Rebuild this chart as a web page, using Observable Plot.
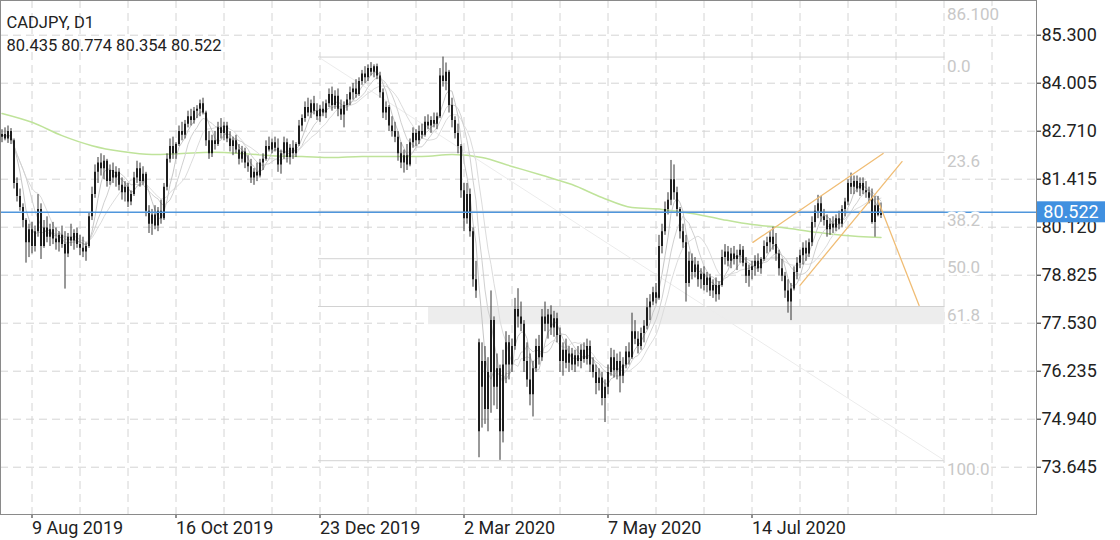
<!DOCTYPE html>
<html><head><meta charset="utf-8">
<script src="https://cdn.jsdelivr.net/npm/d3@7"></script>
<script src="https://cdn.jsdelivr.net/npm/@observablehq/plot@0.6"></script>
<style>
html,body{margin:0;padding:0;background:#fff;}
#chart{width:1120px;height:540px;overflow:hidden;}
</style></head><body>
<div id="chart"></div>
<script>
// ---- data (daily bars, index 0 = first visible bar) ----
const opens = [
82.55,82.62,82.50,82.70,82.45,81.30,80.95,80.65,80.30,79.70,
80.05,79.60,80.00,80.60,79.60,80.10,79.85,80.05,79.80,79.70,
79.90,79.65,79.40,79.85,79.75,79.95,79.65,79.55,79.45,79.60,
80.40,81.00,81.60,81.85,81.70,81.90,81.35,81.65,81.45,81.60,
81.25,81.05,81.20,80.80,81.00,81.45,81.70,81.35,81.55,80.55,
80.20,80.45,80.15,80.55,80.35,81.20,81.95,82.30,82.10,82.35,
82.70,82.60,82.90,83.10,83.00,83.25,83.30,83.45,83.20,82.45,
82.10,82.45,82.35,82.80,82.65,82.85,82.50,82.30,82.45,82.20,
81.95,82.15,81.85,81.75,81.45,81.60,81.50,81.85,81.95,82.30,
82.20,82.40,82.25,81.80,82.10,82.40,82.00,82.25,82.10,82.35,
82.85,83.05,83.35,83.20,83.45,83.25,83.10,83.30,83.20,83.45,
83.70,83.40,83.65,83.30,83.15,83.40,83.55,83.75,83.85,83.70,
84.05,84.25,84.15,84.40,84.30,84.45,84.20,83.75,83.20,83.35,
82.85,82.70,82.55,82.10,81.85,82.05,81.80,82.40,82.65,82.45,
82.70,82.60,82.95,82.85,83.00,82.90,83.10,84.20,84.05,84.30,
83.40,83.00,82.65,82.30,81.10,80.35,81.00,80.00,78.70,77.00,
75.80,76.50,75.20,76.20,77.60,75.80,76.30,74.60,76.40,77.00,
76.40,76.90,77.90,77.70,77.50,76.50,76.00,75.60,76.30,76.90,
76.60,77.70,77.50,77.75,77.40,77.65,77.20,76.50,76.80,76.45,
76.70,76.40,76.65,76.50,76.80,76.55,76.90,76.40,76.20,75.90,
76.05,75.50,75.80,76.20,76.60,76.25,76.50,76.10,76.40,76.75,
76.60,77.30,77.10,76.90,77.25,77.45,77.95,78.10,78.35,78.20,
79.60,80.00,80.60,80.85,81.40,81.05,80.60,80.00,79.70,78.60,
79.20,78.90,79.10,78.70,78.85,78.55,78.75,78.40,78.55,78.30,
78.55,79.30,79.45,79.20,79.40,79.25,79.35,79.50,79.15,78.80,
78.95,79.05,79.20,79.00,79.25,79.60,79.70,79.85,79.65,79.40,
79.00,78.80,78.40,78.10,78.45,78.90,79.15,79.35,79.55,79.40,
79.70,80.25,80.55,80.75,80.40,80.30,80.05,80.20,80.10,80.35,
80.20,80.60,80.80,81.30,81.20,81.35,81.15,81.30,81.10,81.05,
80.90,80.25,80.70,80.435];
const highs = [
82.75,82.80,82.85,82.78,82.50,81.45,81.15,80.75,80.35,80.20,
80.25,80.15,81.00,80.75,80.30,80.40,80.20,80.25,80.10,80.00,
80.15,80.00,79.95,80.20,80.05,80.10,79.90,79.85,79.70,80.50,
81.20,81.80,82.00,82.10,82.05,81.95,81.80,81.85,81.75,81.70,
81.45,81.35,81.30,81.10,81.60,81.90,81.85,81.75,81.60,80.70,
80.60,80.70,80.65,80.85,81.30,82.10,82.50,82.55,82.40,82.85,
82.95,83.00,83.25,83.30,83.35,83.40,83.55,83.60,83.25,82.70,
82.60,82.70,82.95,83.05,82.95,82.95,82.70,82.55,82.60,82.35,
82.30,82.25,82.05,81.95,81.70,81.85,81.95,82.10,82.45,82.55,
82.50,82.55,82.50,82.20,82.55,82.50,82.35,82.45,82.40,83.00,
83.15,83.50,83.60,83.55,83.65,83.45,83.40,83.50,83.55,83.85,
83.90,83.80,83.85,83.55,83.50,83.70,83.90,84.00,84.10,84.15,
84.35,84.45,84.50,84.56,84.50,84.52,84.30,83.85,83.50,83.40,
83.10,82.95,82.70,82.40,82.20,82.35,82.50,82.80,82.75,82.85,
82.90,83.10,83.15,83.10,83.20,83.20,84.40,84.71,84.55,84.35,
83.60,83.10,82.90,82.35,81.30,81.30,81.15,80.10,79.20,77.10,
77.00,76.90,76.60,78.40,77.70,76.70,76.40,76.80,77.30,77.20,
77.10,78.20,78.46,78.10,77.60,77.00,76.70,76.50,77.10,77.20,
77.90,78.10,77.90,78.00,77.85,77.80,77.40,77.00,77.10,76.90,
76.85,76.80,76.90,76.95,77.00,77.10,77.05,76.60,76.40,76.30,
76.20,76.00,76.40,76.85,76.80,76.70,76.75,76.60,76.90,77.00,
77.80,77.60,77.30,77.40,77.60,78.20,78.30,78.50,78.60,79.90,
80.20,80.80,81.05,81.92,81.80,81.20,80.65,80.20,79.90,79.45,
79.40,79.30,79.20,79.00,79.05,78.90,78.85,78.70,78.75,78.65,
79.50,79.65,79.60,79.55,79.60,79.50,79.65,79.60,79.30,79.10,
79.20,79.35,79.40,79.30,79.75,79.85,80.00,80.12,79.95,79.50,
79.25,78.90,78.70,78.60,79.05,79.30,79.50,79.70,79.75,79.80,
80.40,80.70,80.98,80.95,80.60,80.45,80.35,80.40,80.45,80.55,
80.70,80.90,81.40,81.58,81.50,81.50,81.45,81.45,81.35,81.20,
81.15,80.95,80.95,80.774];
const lows = [
82.40,82.45,82.38,82.35,81.15,80.80,80.55,80.10,79.15,79.30,
79.40,79.45,79.85,79.25,79.55,79.70,79.60,79.65,79.50,79.45,
79.55,78.45,79.30,79.60,79.50,79.55,79.35,79.30,79.20,79.55,
80.30,80.90,81.30,81.50,81.40,81.20,81.25,81.30,81.20,81.10,
80.85,80.80,80.65,80.70,80.95,81.30,81.20,81.25,80.40,79.95,
79.90,80.05,80.00,80.20,80.30,81.10,81.85,81.95,81.95,82.30,
82.45,82.50,82.80,82.85,82.90,83.05,83.10,83.15,82.30,81.95,
82.00,82.20,82.30,82.50,82.45,82.40,82.15,82.05,82.10,81.80,
81.85,81.70,81.60,81.30,81.25,81.35,81.45,81.65,81.90,82.15,
82.10,82.15,81.60,81.55,81.95,81.85,81.80,81.95,82.00,82.30,
82.70,82.95,83.10,83.05,83.15,83.00,82.95,83.10,83.05,83.35,
83.25,83.30,83.10,83.00,82.80,83.25,83.40,83.55,83.60,83.65,
83.95,84.00,84.05,84.20,84.15,84.10,83.60,83.05,83.00,82.70,
82.55,82.40,81.90,81.70,81.58,81.65,81.75,82.25,82.30,82.35,
82.50,82.55,82.75,82.65,82.80,82.75,83.05,83.90,83.80,83.20,
82.80,82.50,82.10,80.90,80.00,80.20,79.85,78.50,78.20,73.90,
74.70,74.80,74.60,75.10,75.30,75.20,73.83,74.30,75.90,76.00,
76.20,76.80,77.40,77.30,76.20,75.80,75.30,75.00,76.20,76.40,
76.50,77.30,77.10,77.20,77.15,77.00,76.20,76.10,76.30,76.20,
76.25,76.20,76.35,76.30,76.45,76.40,76.20,76.05,75.60,75.70,
75.30,74.85,75.60,76.10,76.05,76.00,75.65,75.90,76.30,76.40,
76.55,76.95,76.70,76.80,77.00,77.35,77.60,78.00,78.05,78.15,
79.40,79.90,80.45,80.70,80.85,80.40,79.80,79.55,78.10,78.50,
78.70,78.75,78.50,78.45,78.40,78.35,78.25,78.20,78.10,78.15,
78.50,79.10,79.05,79.00,79.10,78.95,79.15,79.05,78.60,78.50,
78.70,78.80,78.90,78.85,79.20,79.40,79.45,79.50,79.20,78.80,
78.65,78.20,77.80,77.60,78.40,78.70,79.00,79.10,79.20,79.30,
79.60,80.10,80.35,80.25,80.15,79.85,79.90,79.95,80.00,80.05,
80.10,80.40,80.70,81.00,81.00,81.05,80.95,81.00,80.90,80.75,
80.20,79.85,80.40,80.354];
const closes = [
82.62,82.50,82.70,82.45,81.30,80.95,80.65,80.30,79.70,80.05,
79.60,80.00,80.60,79.60,80.10,79.85,80.05,79.80,79.70,79.90,
79.65,79.40,79.85,79.75,79.95,79.65,79.55,79.45,79.60,80.40,
81.00,81.60,81.85,81.70,81.90,81.35,81.65,81.45,81.60,81.25,
81.05,81.20,80.80,81.00,81.45,81.70,81.35,81.55,80.55,80.20,
80.45,80.15,80.55,80.35,81.20,81.95,82.30,82.10,82.35,82.70,
82.60,82.90,83.10,83.00,83.25,83.30,83.45,83.20,82.45,82.10,
82.45,82.35,82.80,82.65,82.85,82.50,82.30,82.45,82.20,81.95,
82.15,81.85,81.75,81.45,81.60,81.50,81.85,81.95,82.30,82.20,
82.40,82.25,81.80,82.10,82.40,82.00,82.25,82.10,82.35,82.85,
83.05,83.35,83.20,83.45,83.25,83.10,83.30,83.20,83.45,83.70,
83.40,83.65,83.30,83.15,83.40,83.55,83.75,83.85,83.70,84.05,
84.25,84.15,84.40,84.30,84.45,84.20,83.75,83.20,83.35,82.85,
82.70,82.55,82.10,81.85,82.05,81.80,82.40,82.65,82.45,82.70,
82.60,82.95,82.85,83.00,82.90,83.10,84.20,84.05,84.30,83.40,
83.00,82.65,82.30,81.10,80.35,81.00,80.00,78.70,78.40,74.60,
76.50,75.20,76.20,77.60,75.80,76.30,74.60,76.40,77.00,76.40,
76.90,77.90,77.70,77.50,76.50,76.00,75.60,76.30,76.90,76.60,
77.70,77.50,77.75,77.40,77.65,77.20,76.50,76.80,76.45,76.70,
76.40,76.65,76.50,76.80,76.55,76.90,76.40,76.20,75.90,76.05,
75.50,75.80,76.20,76.60,76.25,76.50,76.10,76.40,76.75,76.60,
77.30,77.10,76.90,77.25,77.45,77.95,78.10,78.35,78.20,79.60,
80.00,80.60,80.85,81.40,81.05,80.60,80.00,79.70,78.60,79.20,
78.90,79.10,78.70,78.85,78.55,78.75,78.40,78.55,78.30,78.55,
79.30,79.45,79.20,79.40,79.25,79.35,79.50,79.15,78.80,78.95,
79.05,79.20,79.00,79.25,79.60,79.70,79.85,79.65,79.40,79.00,
78.80,78.40,78.10,78.45,78.90,79.15,79.35,79.55,79.40,79.70,
80.25,80.55,80.75,80.40,80.30,80.05,80.20,80.10,80.35,80.20,
80.60,80.80,81.30,81.20,81.35,81.15,81.30,81.10,81.05,80.90,
80.25,80.70,80.44,80.522];

// long moving average (green) at bar indices
const maIdx = [0,10,20,30,40,50,60,70,80,90,100,110,120,130,140,150,160,170,180,190,200,210,220,230,240,250,260,270,280,293];
const maVal = [83.19,82.95,82.59,82.32,82.16,82.08,82.11,82.14,82.11,82.05,82.03,82.00,82.03,82.03,82.03,82.08,82.00,81.76,81.52,81.27,80.92,80.65,80.60,80.49,80.33,80.19,80.11,80.00,79.90,79.84];

// y-axis ticks
const yTicks = [85.300,84.005,82.710,81.415,80.120,78.825,77.530,76.235,74.940,73.645];
// date labels and their bar indices
const dateLabels = ["9 Aug 2019","16 Oct 2019","23 Dec 2019","2 Mar 2020","7 May 2020","14 Jul 2020"];
const dateIdx = [10,58,106,154,202,250];

// Fibonacci retracement
const fibPrices = [84.71,82.14,80.55,79.27,77.98,73.82];
const fibLabels = ["0.0","23.6","38.2","50.0","61.8","100.0"];
const fibFrom = 105.5, fibTo = 314.3;
const fibTopPrice = 86.10, fibTopLabel = "86.100";
// grey support zone
const zoneFrom = 142.2, zoneTop = 77.98, zoneBottom = 77.49;

// orange trend lines (bar index, price)
const trendIds = ["upper","upper","lower","lower","proj","proj"];
const trendIdx = [250.3,293.7,266.0,300.0,292.0,305.7];
const trendVal = [79.71,82.11,78.55,81.89,80.84,78.01];

const title = "CADJPY, D1";
const ohlcText = "80.435 80.774 80.354 80.522";
const lastPrice = 80.522;

// ---- build ----
const candles = closes.map((c,i)=>({i, o:opens[i], h:highs[i], l:lows[i], c}));
const ma = maIdx.map((i,k)=>({i, v:maVal[k]}));
const fib = fibPrices.map((p,k)=>({p, label:fibLabels[k], a:fibFrom, b:fibTo}));
const fibText = fib.concat([{p:fibTopPrice, label:fibTopLabel, a:fibFrom, b:fibTo}]);
const diag = [{i:fibFrom, p:fibPrices[0]},{i:fibTo, p:fibPrices[fibPrices.length-1]}];
const zone = [{a:zoneFrom, b:fibTo, t:zoneTop, u:zoneBottom}];
const trends = trendIdx.map((i,k)=>({id:trendIds[k], i, p:trendVal[k]}));
const gridIdx = d3.range(10, 345, 16);
const labelMap = new Map(dateIdx.map((d,k)=>[d, dateLabels[k]]));

const FONT = "Roboto, 'Noto Sans', sans-serif";
const xDomain = [-0.5, -0.5 + 1036/3];
const yDomain = [72.369, 86.236];
const grid = {stroke:"#d4d4d4", strokeDasharray:"8,5", strokeWidth:1};

const chart = Plot.plot({
  width:1120, height:540,
  marginLeft:0, marginRight:84, marginTop:0, marginBottom:26,
  style:{fontFamily:FONT, fontSize:"18px", background:"#fff", color:"#222"},
  x:{type:"linear", domain:xDomain, axis:null},
  y:{type:"linear", domain:yDomain, axis:null},
  marks:[
    Plot.ruleY(yTicks, grid),
    Plot.ruleX(gridIdx, grid),
    Plot.rect(zone, {x1:"a", x2:"b", y1:"u", y2:"t", fill:"#ededed"}),
    Plot.ruleY(fib, {y:"p", x1:"a", x2:"b", stroke:"#d2d2d2", strokeWidth:1}),
    Plot.line(diag, {x:"i", y:"p", stroke:"#ececec", strokeWidth:1}),
    Plot.line(ma, {x:"i", y:"v", stroke:"#bfe39a", strokeWidth:1.5, curve:"monotone-x"}),
    Plot.lineY(candles, Plot.windowY({k:14, anchor:"end"}, {x:"i", y:"c", stroke:"#dcdcdc", strokeWidth:1})),
    Plot.lineY(candles, Plot.windowY({k:9, anchor:"end"}, {x:"i", y:"c", stroke:"#d0d0d0", strokeWidth:1})),
    Plot.lineY(candles, Plot.windowY({k:5, anchor:"end"}, {x:"i", y:"c", stroke:"#c6c6c6", strokeWidth:1})),
    Plot.ruleX(candles, {x:"i", y1:"l", y2:"h", stroke:"#333", strokeWidth:1}),
    Plot.ruleX(candles, {x:"i", y1:"o", y2:"c", stroke:"#1e1e1e", strokeWidth:2}),
    Plot.ruleY([lastPrice], {stroke:"#4f96dc", strokeWidth:1.4}),
    Plot.line(trends, {x:"i", y:"p", z:"id", stroke:"#f0bd75", strokeWidth:1.3}),
    Plot.text(fibText, {x:"b", y:"p", text:"label", textAnchor:"start", dx:2, dy:9, fill:"#c8c8c8", fontSize:17, fontFamily:FONT, stroke:"#fff", strokeWidth:5, paintOrder:"stroke"}),
    Plot.axisY(yTicks, {anchor:"right", tickFormat:d=>d.toFixed(3), tickSize:4, tickPadding:1, fontSize:18, fontFamily:FONT, color:"#222"}),
    Plot.axisX(dateIdx, {anchor:"bottom", tickFormat:d=>labelMap.get(d), tickSize:4, tickPadding:3, textAnchor:"start", fontSize:18, fontFamily:FONT, color:"#222"}),
    Plot.frame({stroke:"#8a8a8a"}),
    Plot.text([title], {text:d=>d, frameAnchor:"top-left", lineAnchor:"top", dx:6, dy:16, fontSize:16.5, fontFamily:FONT, fill:"#222"}),
    Plot.text([ohlcText], {text:d=>d, frameAnchor:"top-left", lineAnchor:"top", dx:6, dy:38.5, fontSize:16.5, fontFamily:FONT, fill:"#222"})
  ]
});

document.getElementById("chart").appendChild(chart);

// price tag on the right axis
const yScale = chart.scale("y");
const ty = yScale.apply(lastPrice);
const sel = d3.select(chart);
sel.append("rect").attr("x",1037).attr("y",ty-10.5).attr("width",68).attr("height",21).attr("fill","#4090e0");
sel.append("text").attr("x",1071).attr("y",ty).attr("text-anchor","middle").attr("dominant-baseline","central")
  .attr("fill","#fff").attr("font-size",18).attr("font-family",FONT).text(lastPrice.toFixed(3));
</script>
</body></html>
